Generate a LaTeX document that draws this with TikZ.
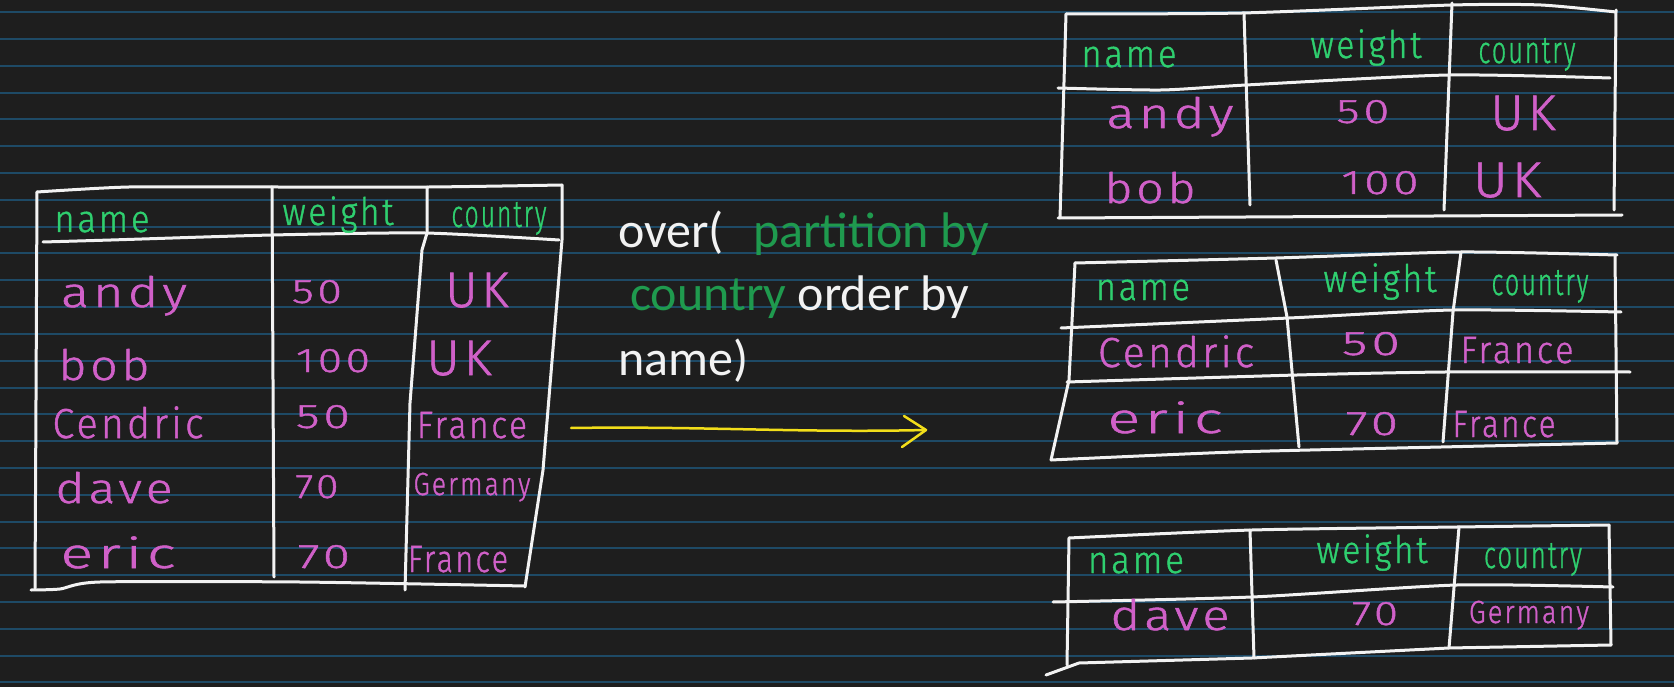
\documentclass[tikz,border=0pt]{standalone}
\usepackage{fontspec}
\usepackage{graphicx}
\setmainfont{Carlito}
\newfontfamily\handfont{Fira Sans Light}[LetterSpace=8, FakeBold=1.2]
\definecolor{bg}{HTML}{1E1E1E}
\definecolor{rulecol}{HTML}{1E4A66}
\definecolor{hgreen}{HTML}{2FCF6F}
\definecolor{hpink}{HTML}{D060C8}
\definecolor{sgreen}{HTML}{1F9A4E}
\definecolor{swhite}{HTML}{F2F2F2}
\definecolor{ayellow}{HTML}{F2DE1A}
\newcommand\hw[2]{\resizebox{#1pt}{\height}{#2}}
\tikzset{
  ruleline/.style={draw=rulecol, line width=2pt},
  tline/.style={draw=swhite, line width=3pt, line cap=round, line join=round},
  hdr/.style={anchor=base, inner sep=0pt, text=hgreen, font=\handfont\fontsize{38}{42}\selectfont},
  val/.style={anchor=base, inner sep=0pt, text=hpink, font=\handfont\fontsize{42}{46}\selectfont},
  valuk/.style={anchor=base, inner sep=0pt, text=hpink, font=\handfont\fontsize{50}{54}\selectfont},
  valm/.style={anchor=base, inner sep=0pt, text=hpink, font=\handfont\fontsize{38}{42}\selectfont},
  vals/.style={anchor=base, inner sep=0pt, text=hpink, font=\handfont\fontsize{32}{36}\selectfont},
  num/.style={anchor=base, inner sep=0pt, text=hpink, font=\handfont\fontsize{34}{38}\selectfont},
  sqltext/.style={anchor=base west, inner sep=0pt, text=swhite, font=\fontsize{50}{60}\selectfont},
  yarrow/.style={draw=ayellow, line width=2.5pt, line cap=round, line join=round},
}
\begin{document}
\begin{tikzpicture}[x=1pt, y=-1pt]
\useasboundingbox (0,0) rectangle (1674,687);
\fill[bg] (0,0) rectangle (1674,687);
% ruled paper lines
\foreach \k in {0,...,25}{
  \pgfmathsetmacro\yy{12.3+26.8*\k}
  \draw[ruleline] (0,\yy) -- (1674,\yy);
}
% ---------- left table ----------
\draw[tline] plot[smooth, tension=0.4] coordinates {(37,192) (129,187) (274,187) (429,187) (562,185)};
\draw[tline] plot[smooth, tension=0.4] coordinates {(37,192) (36,400) (35,588)};
\draw[tline] plot[smooth, tension=0.4] coordinates {(31,590) (60,589) (100,582) (300,582) (525,586)};
\draw[tline] (562,185) -- (562,240) -- (543,470) -- (525,587);
\draw[tline] plot[smooth, tension=0.4] coordinates {(43,242) (111,240) (272,235) (425,233) (559,240)};
\draw[tline] plot[smooth, tension=0.4] coordinates {(272,187) (273,380) (274,577)};
\draw[tline] (427,187) -- (427,233) -- (422,250) -- (410,403) -- (405,590);
\node[hdr] (L-name) at (102,232) {\hw{95}{name}};
\node[hdr] (L-weight) at (338,225) {\hw{111}{weight}};
\node[hdr] (L-country) at (499,227) {\hw{95}{country}};
\node[val] (L-a1) at (124,307) {\hw{126}{andy}};
\node[num] (L-a2) at (317,303) {\hw{50}{50}};
\node[valuk] (L-a3) at (477,307) {\hw{63}{UK}};
\node[val] (L-b1) at (104,380) {\hw{91}{bob}};
\node[num] (L-b2) at (333,372) {\hw{74}{100}};
\node[valuk] (L-b3) at (459,375) {\hw{65}{UK}};
\node[val] (L-c1) at (128,438) {\hw{151}{Cendric}};
\node[num] (L-c2) at (323,428) {\hw{54}{50}};
\node[valm] (L-c3) at (472,438) {\hw{110}{France}};
\node[val] (L-d1) at (114,503) {\hw{117}{dave}};
\node[num] (L-d2) at (317,498) {\hw{43}{70}};
\node[vals] (L-d3) at (472,495) {\hw{117}{Germany}};
\node[val] (L-e1) at (118,568) {\hw{115}{eric}};
\node[num] (L-e2) at (324,568) {\hw{52}{70}};
\node[valm] (L-e3) at (458,572) {\hw{100}{France}};
% ---------- SQL text ----------
\node[sqltext] (t1a) at (618,248) {over(};
\node[sqltext, text=sgreen] (t1b) at (753,248) {partition by};
\node[sqltext] (t2) at (630,310) {\textcolor{sgreen}{country} order by};
\node[sqltext] (t3) at (618,375) {name)};
% ---------- arrow ----------
\coordinate (arrS) at (571,428);
\coordinate (arrE) at (926,430);
\draw[yarrow] (arrS) .. controls (700,426) and (800,433) .. (arrE);
\draw[yarrow] ([xshift=-22pt,yshift=14pt]arrE) -- (arrE) -- ([xshift=-24pt,yshift=-17pt]arrE);
% ---------- top right table ----------
\draw[tline] plot[smooth, tension=0.4] coordinates {(1066,14) (1242,13) (1452,5) (1541,5) (1616,12)};
\draw[tline] (1066,14) -- (1060,218);
\draw[tline] (1058,218) -- (1622,215);
\draw[tline] (1616,10) -- (1614,210);
\draw[tline] plot[smooth, tension=0.4] coordinates {(1058,88) (1161,90) (1246,85) (1448,75) (1610,78)};
\draw[tline] (1244,13) -- (1250,205);
\draw[tline] (1452,3) -- (1444,210);
\node[hdr] (A-name) at (1129,67) {\hw{95}{name}};
\node[hdr] (A-weight) at (1366,58) {\hw{111}{weight}};
\node[hdr] (A-country) at (1527,63) {\hw{97}{country}};
\node[val] (A-a1) at (1170,128) {\hw{127}{andy}};
\node[num] (A-a2) at (1363,123) {\hw{53}{50}};
\node[valuk] (A-a3) at (1523,130) {\hw{65}{UK}};
\node[val] (A-b1) at (1150,203) {\hw{91}{bob}};
\node[num] (A-b2) at (1380,194) {\hw{77}{100}};
\node[valuk] (A-b3) at (1507,197) {\hw{68}{UK}};
% ---------- middle right table ----------
\draw[tline] plot[smooth, tension=0.4] coordinates {(1075,263) (1276,258) (1461,252) (1617,255)};
\draw[tline] (1075,263) -- (1069,380) -- (1051,460);
\draw[tline] (1615,255) -- (1617,443);
\draw[tline] plot[smooth, tension=0.4] coordinates {(1061,328) (1289,318) (1453,310) (1621,312)};
\draw[tline] plot[smooth, tension=0.4] coordinates {(1067,382) (1297,375) (1445,372) (1630,372)};
\draw[tline] plot[smooth, tension=0.4] coordinates {(1051,460) (1235,452) (1441,447) (1617,443)};
\draw[tline] (1276,260) -- (1287,317) -- (1299,447);
\draw[tline] (1461,252) -- (1453,312) -- (1443,442);
\node[hdr] (B-name) at (1143,300) {\hw{94}{name}};
\node[hdr] (B-weight) at (1380,292) {\hw{113}{weight}};
\node[hdr] (B-country) at (1540,295) {\hw{97}{country}};
\node[val] (B-c1) at (1176,367) {\hw{156}{Cendric}};
\node[num] (B-c2) at (1371,355) {\hw{58}{50}};
\node[valm] (B-c3) at (1517,363) {\hw{113}{France}};
\node[val] (B-e1) at (1165,433) {\hw{115}{eric}};
\node[num] (B-e2) at (1372,435) {\hw{52}{70}};
\node[valm] (B-e3) at (1504,437) {\hw{103}{France}};
% ---------- bottom right table ----------
\draw[tline] plot[smooth, tension=0.4] coordinates {(1069,538) (1252,530) (1457,527) (1609,525)};
\draw[tline] (1069,538) -- (1067,665);
\draw[tline] (1046,675) -- (1079,663) -- (1252,658) -- (1449,648) -- (1611,645);
\draw[tline] (1609,525) -- (1611,645);
\draw[tline] plot[smooth, tension=0.4] coordinates {(1053,602) (1252,597) (1457,585) (1613,587)};
\draw[tline] (1250,530) -- (1254,658);
\draw[tline] (1459,527) -- (1449,648);
\node[hdr] (C-name) at (1136,573) {\hw{96}{name}};
\node[hdr] (C-weight) at (1372,563) {\hw{111}{weight}};
\node[hdr] (C-country) at (1533,568) {\hw{98}{country}};
\node[val] (C-d1) at (1170,630) {\hw{119}{dave}};
\node[num] (C-d2) at (1375,625) {\hw{46}{70}};
\node[vals] (C-d3) at (1529,623) {\hw{120}{Germany}};
\end{tikzpicture}
\end{document}
